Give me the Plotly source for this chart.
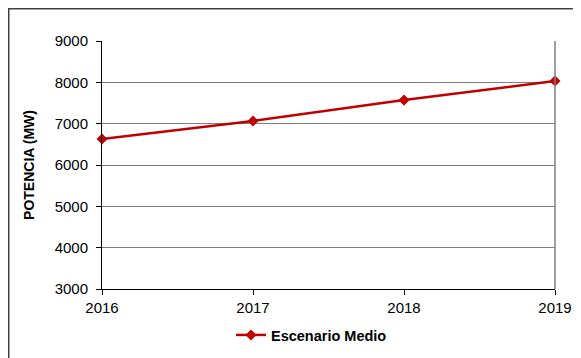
import plotly.graph_objects as go

years = [2016, 2017, 2018, 2019]
potencia = [6630, 7065, 7570, 8030]
series_name = "Escenario Medio"
y_ticks = [3000, 4000, 5000, 6000, 7000, 8000, 9000]

# page offset (default body margin of the html page)
OFF = 8
W, H = 581 - OFF, 358 - OFF
# plot area in screenshot pixels: x 102..555, y 41..289
L, R, T, B = 102 - OFF, 581 - 555, 41 - OFF, 358 - 289
pw, ph = W - L - R, H - T - B

def fx(x):
    """figure pixel x -> paper"""
    return (x - L) / pw

def fy(y):
    """figure pixel y -> paper"""
    return (H - B - y) / ph

fig = go.Figure()
fig.add_trace(go.Scatter(
    x=years, y=potencia, name=series_name, mode="lines+markers",
    line=dict(color="#C00000", width=2.5),
    marker=dict(symbol="diamond", size=8.5, color="#C00000"),
    cliponaxis=False,
))

font = "Liberation Sans, Arial, sans-serif"
fig.update_layout(
    width=W, height=H,
    margin=dict(l=L, r=R, t=T, b=B, autoexpand=False),
    paper_bgcolor="white", plot_bgcolor="white",
    font=dict(family=font, size=14, color="black"),
    showlegend=True,
    legend=dict(orientation="h", xref="container", yref="container",
                x=(231 - OFF) / W, xanchor="left",
                y=1 - (335 - OFF) / H, yanchor="middle",
                font=dict(size=14.5, family=font, weight="bold"),
                bgcolor="rgba(0,0,0,0)"),
    xaxis=dict(range=[2016, 2019], tickvals=years, showgrid=False,
               showline=True, linecolor="black", linewidth=1,
               ticks="outside", ticklen=5, tickcolor="black",
               tickfont=dict(size=15), zeroline=False, automargin=False),
    yaxis=dict(range=[3000, 9000], tickvals=y_ticks, showgrid=True,
               gridcolor="#7f7f7f", gridwidth=1,
               showline=True, linecolor="black", linewidth=1,
               ticks="outside", ticklen=5, tickcolor="black",
               ticklabelstandoff=5, automargin=False,
               tickfont=dict(size=15), zeroline=False,
               title=dict(text="POTENCIA (MW)", font=dict(size=14, weight="bold"), standoff=16)),
    shapes=[
        dict(type="line", xref="paper", yref="paper", x0=1, x1=1, y0=0, y1=1,
             line=dict(color="#808080", width=1.5)),
        dict(type="rect", xref="paper", yref="paper", x0=fx(0.5), x1=fx(W + 20), y0=fy(H + 20), y1=fy(0.5),
             line=dict(color="#404040", width=2), layer="below"),
    ],
)

fig.write_html("out.html")
